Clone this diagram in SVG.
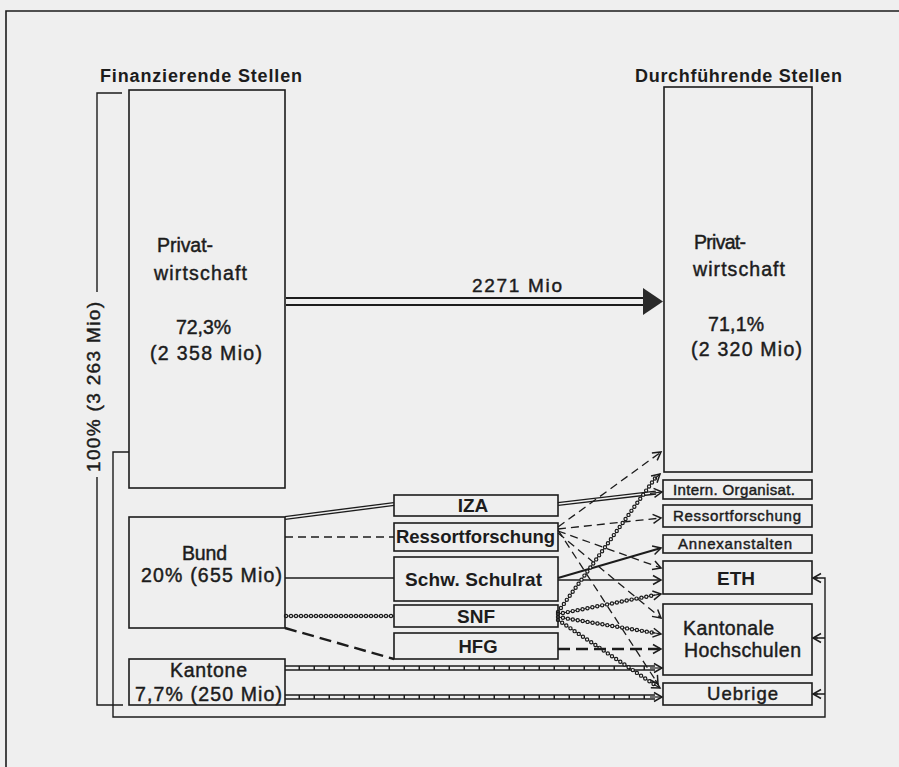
<svg xmlns="http://www.w3.org/2000/svg" width="899" height="767" viewBox="0 0 899 767">
<defs>
<style>
text{font-family:"Liberation Sans","Arimo",Arial,sans-serif;fill:#1c1c1c}
.b{font-weight:bold}
.m{stroke:#1c1c1c;stroke-width:0.45}
.box{fill:none;stroke:#1c1c1c;stroke-width:1.6}
.ln{fill:none;stroke:#1c1c1c;stroke-width:1.4}
.ln2{fill:none;stroke:#1c1c1c;stroke-width:2}
.dash{fill:none;stroke:#1c1c1c;stroke-width:1.3;stroke-dasharray:8 5}
.ldash{fill:none;stroke:#1c1c1c;stroke-width:2.4;stroke-dasharray:12 6}
.dblo{fill:none;stroke:#1c1c1c;stroke-width:4.2}
.dbli{fill:none;stroke:#efefef;stroke-width:1.5}
.beadl{fill:none;stroke:#1c1c1c;stroke-width:1}
.beado{fill:none;stroke:#1c1c1c;stroke-width:4.4;stroke-dasharray:0 5;stroke-linecap:round}
.beadi{fill:none;stroke:#efefef;stroke-width:2;stroke-dasharray:0 5;stroke-linecap:round}
.lado{fill:none;stroke:#1c1c1c;stroke-width:5.5}
.ladi{fill:none;stroke:#efefef;stroke-width:2.6;stroke-dasharray:13.5 1.5}
.tip{fill:none;stroke:#1c1c1c;stroke-width:1.2;marker-end:url(#ah)}
</style>
<marker id="ah" markerUnits="userSpaceOnUse" markerWidth="12" markerHeight="12" viewBox="0 0 12 12" refX="10" refY="6" orient="auto">
<path d="M2,1.5 L10,6 L2,10.5" fill="none" stroke="#1c1c1c" stroke-width="1.5"/>
</marker>
</defs>
<rect width="899" height="767" fill="#efefef"/>
<path d="M6,767 V11 H899" class="box"/>

<g id="connectors">
<path d="M286,298 H645 M286,305 H645" fill="none" stroke="#1c1c1c" stroke-width="2"/>
<path d="M643,288 L663,301.5 L643,315 Z" fill="#2a2a2a"/>
<path d="M122,93 H97 V292 M97,477 V705 H123" class="ln"/>
<path d="M129,452 H113 V717 H825 V578 H813" class="ln"/>
<path d="M825,638 H813 M825,694 H813" class="ln"/>
<path d="M818,578 H813" class="tip"/>
<path d="M818,638 H813" class="tip"/>
<path d="M818,694 H813" class="tip"/>
<path d="M285,518 L394,504" class="dblo"/><path d="M285,518 L394,504" class="dbli"/>
<path d="M558,504 L656,492.6" class="dblo"/><path d="M558,504 L656,492.6" class="dbli"/>
<path d="M650,493.3 L662,492" class="tip"/>
<path d="M285,537 H394" class="dash"/>
<path d="M285,578 H394" class="ln"/>
<path d="M286,616 H394" class="beadl"/><path d="M286,616 H394" class="beado"/><path d="M286,616 H394" class="beadi"/>
<path d="M285,628 L394,659" class="ldash"/>
<path d="M285,668 H655" class="lado"/><path d="M285,668 H655" class="ladi"/>
<path d="M650,668 H662" class="tip"/>
<path d="M285,697 H655" class="lado"/><path d="M285,697 H655" class="ladi"/>
<path d="M650,697 H662" class="tip"/>
<path d="M558,527 L661,452" class="dash" marker-end="url(#ah)"/>
<path d="M558,529 L661,518" class="dash" marker-end="url(#ah)"/>
<path d="M558,531 L661,568" class="dash" marker-end="url(#ah)"/>
<path d="M558,533 L661,618" class="dash" marker-end="url(#ah)"/>
<path d="M558,530 L658,684" class="dash" marker-end="url(#ah)"/>
<path d="M558,578 L661,548" class="ln2" marker-end="url(#ah)"/>
<path d="M558,580 H661" class="ln" marker-end="url(#ah)"/>
<path d="M558,612 L656,477" class="beadl"/><path d="M558,612 L656,477" class="beado"/><path d="M558,612 L656,477" class="beadi"/>
<path d="M655,478.5 L660,474" class="tip"/>
<path d="M558,614 L655,595" class="beadl"/><path d="M558,614 L655,595" class="beado"/><path d="M558,614 L655,595" class="beadi"/>
<path d="M652,595.6 L661,594" class="tip"/>
<path d="M558,617 L655,633" class="beadl"/><path d="M558,617 L655,633" class="beado"/><path d="M558,617 L655,633" class="beadi"/>
<path d="M652,632.5 L661,634" class="tip"/>
<path d="M558,620 L655,685" class="beadl"/><path d="M558,620 L655,685" class="beado"/><path d="M558,620 L655,685" class="beadi"/>
<path d="M654,684.5 L660,688" class="tip"/>
<path d="M558,649 H661" class="ldash" marker-end="url(#ah)"/>
</g>

<text x="100" y="82" class="b" font-size="18" textLength="202">Finanzierende Stellen</text>
<text x="635" y="82" class="b" font-size="18" textLength="207">Durchführende Stellen</text>
<text transform="translate(99.5,387) rotate(-90)" text-anchor="middle" class="m" font-size="19" textLength="170">100% (3 263 Mio)</text>
<text x="472" y="292" class="m" font-size="19" textLength="90">2271 Mio</text>

<g id="fin-privat">
<rect x="129" y="90" width="156" height="398" class="box"/>
<text x="157" y="252" class="m" font-size="19.5" textLength="56">Privat-</text>
<text x="154" y="280" class="m" font-size="19.5" textLength="93">wirtschaft</text>
<text x="176" y="334" class="m" font-size="19.5" textLength="55">72,3%</text>
<text x="150" y="360" class="m" font-size="19.5" textLength="112">(2 358 Mio)</text>
</g>
<g id="fin-bund">
<rect x="129" y="517" width="156" height="111" class="box"/>
<text x="182" y="560" class="m" font-size="19.5" textLength="45">Bund</text>
<text x="141" y="582" class="m" font-size="19.5" textLength="141">20% (655 Mio)</text>
</g>
<g id="fin-kantone">
<rect x="129" y="659" width="156" height="46" class="box"/>
<text x="170" y="677" class="m" font-size="19.5" textLength="77">Kantone</text>
<text x="135" y="701" class="m" font-size="19.5" textLength="147">7,7% (250 Mio)</text>
</g>

<g id="mid-iza">
<rect x="394" y="495" width="164" height="21" class="box"/>
<text x="473" y="512" class="b" font-size="19" text-anchor="middle">IZA</text>
</g>
<g id="mid-ressort">
<rect x="394" y="523" width="164" height="28" class="box"/>
<text x="396" y="543" class="b" font-size="18.5" textLength="159">Ressortforschung</text>
</g>
<g id="mid-schulrat">
<rect x="394" y="557" width="164" height="44" class="box"/>
<text x="405" y="586" class="b" font-size="19" textLength="137">Schw. Schulrat</text>
</g>
<g id="mid-snf">
<rect x="394" y="605" width="164" height="22" class="box"/>
<text x="476" y="623" class="b" font-size="19" text-anchor="middle">SNF</text>
</g>
<g id="mid-hfg">
<rect x="394" y="633" width="164" height="26" class="box"/>
<text x="478" y="653" class="b" font-size="18.5" text-anchor="middle">HFG</text>
</g>

<g id="dur-privat">
<rect x="664" y="87" width="148" height="385" class="box"/>
<text x="694" y="249" class="m" font-size="19.5" textLength="52">Privat-</text>
<text x="693" y="276" class="m" font-size="19.5" textLength="92">wirtschaft</text>
<text x="708" y="331" class="m" font-size="19.5" textLength="56">71,1%</text>
<text x="691" y="356" class="m" font-size="19.5" textLength="111">(2 320 Mio)</text>
</g>
<g id="dur-intern">
<rect x="663" y="480" width="149" height="19" class="box"/>
<text x="673" y="495" class="m" font-size="15" textLength="122">Intern. Organisat.</text>
</g>
<g id="dur-ressort">
<rect x="663" y="505" width="149" height="22" class="box"/>
<text x="673" y="521" class="m" font-size="15" textLength="128">Ressortforschung</text>
</g>
<g id="dur-annex">
<rect x="663" y="535" width="149" height="18" class="box"/>
<text x="678" y="549" class="m" font-size="15" textLength="114">Annexanstalten</text>
</g>
<g id="dur-eth">
<rect x="663" y="561" width="149" height="33" class="box"/>
<text x="736" y="585" class="b" font-size="19" text-anchor="middle">ETH</text>
</g>
<g id="dur-kantonale">
<rect x="663" y="604" width="149" height="71" class="box"/>
<text x="683" y="635" class="m" font-size="19.5" textLength="91">Kantonale</text>
<text x="684" y="657" class="m" font-size="19.5" textLength="117">Hochschulen</text>
</g>
<g id="dur-uebrige">
<rect x="663" y="683" width="149" height="22" class="box"/>
<text x="707" y="700" class="m" font-size="18.5" textLength="71">Uebrige</text>
</g>
</svg>
